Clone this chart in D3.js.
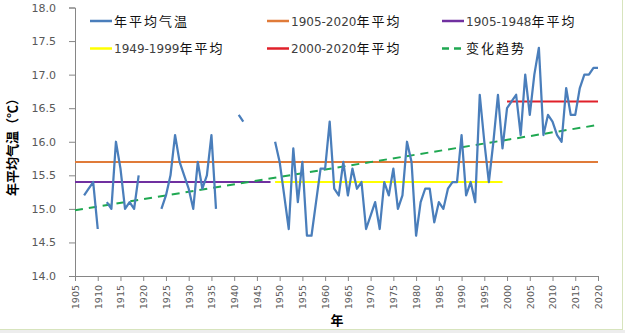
<!DOCTYPE html>
<html>
<head>
<meta charset="utf-8">
<script src="https://cdn.jsdelivr.net/npm/d3@7"></script>
<style>
  body { margin: 0; background: #fff; }
  text { font-family: "DejaVu Sans", "Noto Sans CJK SC", sans-serif; }
</style>
</head>
<body>
<div id="chart"></div>
<script>
// annual mean temperature, 1905-2020 (null = no record)
var years = d3.range(1905, 2021);
var temps = [
  null, null, 15.2, 15.3, 15.4, 14.7, null, 15.1, 15.0, 16.0,   // 1905-1914
  15.6, 15.0, 15.1, 15.0, 15.5, null, null, null, null, 15.0,   // 1915-1924
  15.2, 15.5, 16.1, 15.7, 15.5, 15.3, 15.0, 15.7, 15.3, 15.5,   // 1925-1934
  16.1, 15.0, null, null, null, null, 16.4, 16.3, null, null,   // 1935-1944
  null, null, null, null, 16.0, 15.7, 15.2, 14.7, 15.9, 15.1,   // 1945-1954
  15.7, 14.6, 14.6, 15.1, 15.6, 15.6, 16.3, 15.3, 15.2, 15.7,   // 1955-1964
  15.2, 15.6, 15.3, 15.4, 14.7, 14.9, 15.1, 14.7, 15.4, 15.2,   // 1965-1974
  15.6, 15.0, 15.2, 16.0, 15.7, 14.6, 15.1, 15.3, 15.3, 14.8,   // 1975-1984
  15.1, 15.0, 15.3, 15.4, 15.4, 16.1, 15.2, 15.4, 15.1, 16.7,   // 1985-1994
  16.0, 15.4, 16.0, 16.7, 15.9, 16.5, 16.6, 16.7, 16.1, 17.0,   // 1995-2004
  16.4, 17.0, 17.4, 16.1, 16.4, 16.3, 16.1, 16.0, 16.8, 16.4,   // 2005-2014
  16.4, 16.8, 17.0, 17.0, 17.1, 17.1                            // 2015-2020
];

// period averages
var periodLabels = ["1905-2020年平均", "1905-1948年平均", "1949-1999年平均", "2000-2020年平均"];
var periodStart = [1905, 1905, 1949, 2000];
var periodEnd = [2020, 1948, 1999, 2020];
var periodValues = [15.7, 15.4, 15.4, 16.6];

// linear trend, end points
var trendYears = [1905, 2020];
var trendValues = [14.98, 16.25];

var yTicks = [14.0, 14.5, 15.0, 15.5, 16.0, 16.5, 17.0, 17.5, 18.0];
var xTicks = d3.range(1905, 2021, 5);

var width = 625, height = 333;
var periodColors = ["#E07B39", "#7030A0", "#FFFF00", "#E0202A"];
var seriesColor = "#4A7EBB";
var trendColor = "#1FA851";

var svg = d3.select("#chart")
  .append("svg")
  .attr("width", width)
  .attr("height", height);

// chart frame
svg.append("rect")
  .attr("x", -1).attr("y", -1)
  .attr("width", 623.5).attr("height", 330.5)
  .attr("fill", "#fff")
  .attr("stroke", "#D7E4BD")
  .attr("stroke-width", 1);
svg.append("rect")
  .attr("x", 0).attr("y", 330)
  .attr("width", width).attr("height", 3)
  .attr("fill", "#EDEDED");

var x = d3.scaleLinear()
  .domain([1905, 2020])
  .range([75, 598]);

var y = d3.scaleLinear()
  .domain([14, 18])
  .range([276, 7.5]);

// y axis
var yAxis = svg.append("g")
  .attr("transform", "translate(75,0)")
  .call(d3.axisLeft(y).tickValues(yTicks).tickFormat(d3.format(".1f")).tickSize(6).tickPadding(13));
yAxis.select(".domain").attr("stroke", "#868686");
yAxis.selectAll(".tick line").attr("stroke", "#868686");
yAxis.selectAll(".tick text").attr("fill", "#595959").style("font-size", "11px");

// x axis
var xAxis = svg.append("g")
  .attr("transform", "translate(0,276)")
  .call(d3.axisBottom(x).tickValues(xTicks).tickFormat(d3.format("d")).tickSize(5));
xAxis.select(".domain").attr("stroke", "#868686");
xAxis.selectAll(".tick line").attr("stroke", "#868686");
xAxis.selectAll(".tick text")
  .attr("fill", "#595959")
  .style("font-size", "9.5px")
  .attr("text-anchor", "end")
  .attr("transform", "rotate(-90)")
  .attr("x", -9)
  .attr("y", 0)
  .attr("dy", "0.35em");

// axis titles
svg.append("text")
  .attr("x", 337).attr("y", 325)
  .attr("text-anchor", "middle")
  .style("font-size", "13px")
  .style("font-weight", "bold")
  .style("font-family", "Noto Sans CJK SC")
  .text("年");

svg.append("text")
  .attr("transform", "translate(17,144) rotate(-90)")
  .attr("text-anchor", "middle")
  .style("font-size", "13px")
  .style("font-weight", "bold")
  .style("font-family", "Noto Sans CJK SC")
  .text("年平均气温（℃）");

// period average lines
periodValues.forEach(function(v, i) {
  svg.append("line")
    .attr("x1", x(periodStart[i]))
    .attr("x2", x(periodEnd[i]))
    .attr("y1", y(v))
    .attr("y2", y(v))
    .attr("stroke", periodColors[i])
    .attr("stroke-width", 2);
});

// trend
svg.append("line")
  .attr("x1", x(trendYears[0])).attr("y1", y(trendValues[0]))
  .attr("x2", x(trendYears[1])).attr("y2", y(trendValues[1]))
  .attr("stroke", trendColor)
  .attr("stroke-width", 2)
  .attr("stroke-dasharray", "8,6");

// annual series
var line = d3.line()
  .defined(function(d, i) { return temps[i] != null; })
  .x(function(d) { return x(d); })
  .y(function(d, i) { return y(temps[i]); });

svg.append("path")
  .datum(years)
  .attr("fill", "none")
  .attr("stroke", seriesColor)
  .attr("stroke-width", 2.25)
  .attr("stroke-linejoin", "round")
  .attr("d", line);

// legend
var legendItems = [
  {label: "年平均气温", color: seriesColor, col: 0, row: 0},
  {label: periodLabels[0], color: periodColors[0], col: 1, row: 0},
  {label: periodLabels[1], color: periodColors[1], col: 2, row: 0},
  {label: periodLabels[2], color: periodColors[2], col: 0, row: 1},
  {label: periodLabels[3], color: periodColors[3], col: 1, row: 1},
  {label: "变化趋势", color: trendColor, col: 2, row: 1, dash: true}
];
var colX = [90, 267, 442];
var rowY = [21, 48.5];

var lg = svg.selectAll(".legend")
  .data(legendItems)
  .enter().append("g")
  .attr("class", "legend")
  .attr("transform", function(d) { return "translate(" + colX[d.col] + "," + rowY[d.row] + ")"; });

lg.append("line")
  .attr("x1", 0).attr("x2", 22)
  .attr("stroke", function(d) { return d.color; })
  .attr("stroke-width", 2.5)
  .attr("stroke-dasharray", function(d) { return d.dash ? "7,5" : null; });

lg.append("text")
  .attr("x", 24)
  .attr("dy", "0.38em")
  .style("font-size", "12px")
  .attr("fill", "#404040")
  .each(function(d) {
    var t = d3.select(this);
    var m = d.label.match(/^([0-9\-]*)(.*)$/);
    if (m[1]) t.append("tspan").text(m[1]);
    t.append("tspan")
      .style("font-family", "Noto Sans CJK SC")
      .style("font-size", "13px")
      .attr("fill", "#111")
      .style("letter-spacing", "2px")
      .text(m[2]);
  });
</script>
</body>
</html>
